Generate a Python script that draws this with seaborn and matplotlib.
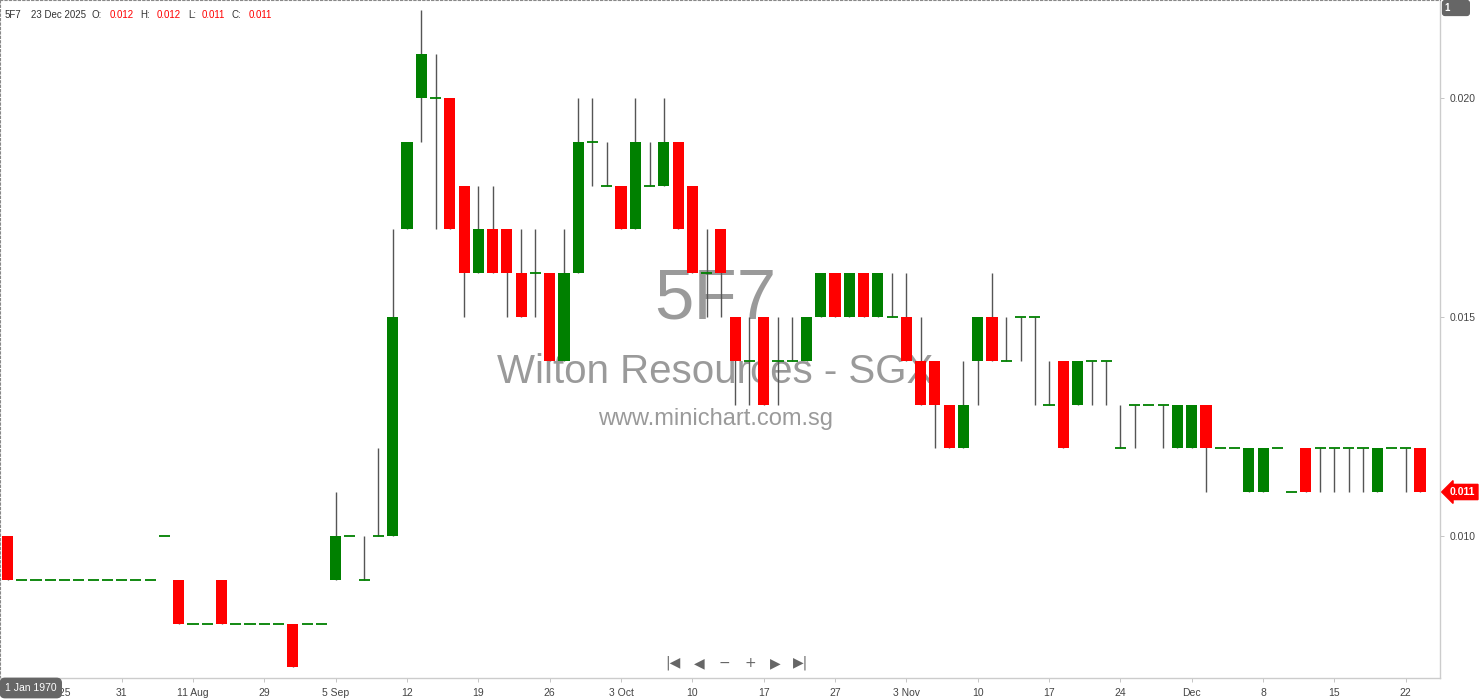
import numpy as np
import pandas as pd
import matplotlib
matplotlib.use("Agg")
import matplotlib.pyplot as plt
import seaborn as sns

# precios en milesimas de dolar (0.001 SGD)
opens = [10, 9, 9, 9, 9, 9, 9, 9, 9, 9, 9, 10, 9, 8, 8, 9, 8, 8, 8, 8,
         8, 8, 8, 9, 10, 9, 10, 10, 17, 20, 20, 20, 18, 16, 17, 17, 16, 16, 16, 14,
         16, 19, 18, 18, 17, 18, 18, 19, 18, 16, 17, 15, 14, 15, 14, 14, 14, 15, 16, 15,
         16, 15, 15, 15, 14, 14, 13, 12, 14, 15, 14, 15, 15, 13, 14, 13, 14, 14, 12, 13,
         13, 13, 12, 12, 13, 12, 12, 11, 11, 12, 11, 12, 12, 12, 12, 12, 11, 12, 12, 12]
highs = [10, 9, 9, 9, 9, 9, 9, 9, 9, 9, 9, 10, 9, 8, 8, 9, 8, 8, 8, 8,
         8, 8, 8, 11, 10, 10, 12, 17, 19, 22, 21, 20, 18, 18, 18, 17, 17, 17, 16, 17,
         20, 20, 19, 18, 20, 19, 20, 19, 18, 17, 17, 15, 15, 15, 15, 15, 15, 16, 16, 16,
         16, 16, 16, 16, 15, 14, 13, 14, 15, 16, 15, 15, 15, 14, 14, 14, 14, 14, 13, 13,
         13, 13, 13, 13, 13, 12, 12, 12, 12, 12, 11, 12, 12, 12, 12, 12, 12, 12, 12, 12]
lows = [9, 9, 9, 9, 9, 9, 9, 9, 9, 9, 9, 10, 8, 8, 8, 8, 8, 8, 8, 8,
        7, 8, 8, 9, 10, 9, 10, 10, 17, 19, 17, 17, 15, 16, 16, 15, 15, 15, 14, 14,
        16, 18, 18, 17, 17, 18, 18, 17, 16, 15, 15, 13, 13, 13, 13, 14, 14, 15, 15, 15,
        15, 15, 15, 14, 13, 12, 12, 12, 13, 14, 14, 14, 13, 13, 12, 13, 13, 13, 12, 12,
        13, 12, 12, 12, 11, 12, 12, 11, 11, 12, 11, 11, 11, 11, 11, 11, 11, 12, 11, 11]
closes = [9, 9, 9, 9, 9, 9, 9, 9, 9, 9, 9, 10, 8, 8, 8, 8, 8, 8, 8, 8,
          7, 8, 8, 10, 10, 9, 10, 15, 19, 21, 20, 17, 16, 17, 16, 16, 15, 16, 14, 16,
          19, 19, 18, 17, 19, 18, 19, 17, 16, 16, 16, 14, 14, 13, 14, 14, 15, 16, 15, 16,
          15, 16, 15, 14, 13, 13, 12, 13, 15, 14, 14, 15, 15, 13, 12, 14, 14, 14, 12, 13,
          13, 13, 13, 13, 12, 12, 12, 12, 12, 12, 11, 11, 12, 12, 12, 12, 12, 12, 12, 11]

tick_pos = [3, 8, 13, 18, 23, 28, 33, 38, 43, 48, 53, 58, 63, 68, 73, 78, 83, 88, 93, 98]
tick_labels = ["Jul 2025", "31", "11 Aug", "29", "5 Sep", "12", "19", "26", "3 Oct", "10",
               "17", "27", "3 Nov", "10", "17", "24", "Dec", "8", "15", "22"]
price_ticks = [0.010, 0.015, 0.020]

df = pd.DataFrame({"open": opens, "high": highs, "low": lows, "close": closes}) / 1000
df["i"] = np.arange(len(df))

sns.set_theme(style="white")
plt.rcParams["font.family"] = ["Liberation Sans", "DejaVu Sans"]

fig = plt.figure(figsize=(14.8, 6.99), dpi=100)
ax = fig.add_axes([0, 21 / 699, 1440 / 1480, 678 / 699])

# marca de agua
ax.text(0.497, 0.557, "5F7", transform=ax.transAxes, ha="center", va="center",
        fontsize=51, color="#9a9a9a", zorder=0)
ax.text(0.497, 0.451, "Wilton Resources - SGX", transform=ax.transAxes, ha="center",
        va="center", fontsize=29, color="#9a9a9a", zorder=0)
ax.text(0.497, 0.382, "www.minichart.com.sg", transform=ax.transAxes, ha="center",
        va="center", fontsize=17, color="#9a9a9a", zorder=0)

# mechas
ax.vlines(df["i"], df["low"], df["high"], color="#555555", linewidth=1, zorder=2)

# cuerpos
up = df[df["close"] > df["open"]]
down = df[df["close"] < df["open"]]
flat = df[df["close"] == df["open"]]
w = 0.78
ax.bar(up["i"], up["close"] - up["open"], bottom=up["open"], width=w,
       color="#008000", linewidth=0, zorder=3)
ax.bar(down["i"], down["open"] - down["close"], bottom=down["close"], width=w,
       color="#ff0000", linewidth=0, zorder=3)
ax.hlines(flat["open"], flat["i"] - w / 2, flat["i"] + w / 2, color="#008000",
          linewidth=1.3, zorder=3)

ax.set_xlim(-0.526, 100.4)
ax.set_ylim(0.006758, 0.022237)

ax.set_xticks(tick_pos)
ax.set_xticklabels(tick_labels, fontsize=7.5, color="#444444")
ax.yaxis.tick_right()
ax.set_yticks(price_ticks)
ax.set_yticklabels([f"{v:.3f}" for v in price_ticks], fontsize=7.5, color="#444444")
ax.tick_params(axis="both", length=3, width=0.6, color="#bbbbbb", pad=4)
ax.tick_params(axis="x", bottom=True)
ax.tick_params(axis="y", right=True)

for side in ["top", "left"]:
    ax.spines[side].set_linestyle((0, (2, 2)))
    ax.spines[side].set_color("#888888")
    ax.spines[side].set_linewidth(0.8)
for side in ["right", "bottom"]:
    ax.spines[side].set_color("#cccccc")
    ax.spines[side].set_linewidth(1)

# cabecera OHLC
header = [("5F7", 5, "#333333"), ("23 Dec 2025", 31, "#333333"), ("O:", 92, "#333333"),
          ("0.012", 110, "red"), ("H:", 140, "#333333"), ("0.012", 157, "red"),
          ("L:", 188, "#333333"), ("0.011", 202, "red"), ("C:", 232, "#333333"),
          ("0.011", 249, "red")]
for txt, xp, col in header:
    fig.text(xp / 1480, 1 - 15 / 699, txt, fontsize=7, color=col, va="center", ha="left")

# botones de navegacion
nav = [("|◀", 673), ("◀", 699), ("−", 724), ("+", 750), ("▶", 775), ("▶|", 801)]
for txt, xp in nav:
    fig.text(xp / 1480, 1 - 663 / 699, txt, fontsize=10, color="#666666",
             ha="center", va="center", family="DejaVu Sans")

# etiquetas de la esquina
fig.text(5 / 1480, 1 - 688 / 699, "1 Jan 1970", fontsize=7.5, color="white",
         va="center", ha="left",
         bbox=dict(boxstyle="round,pad=0.45", fc="#666666", ec="#666666"))
fig.text(1445 / 1480, 1 - 8 / 699, "1      ", fontsize=7, color="white", va="center",
         ha="left", fontweight="bold",
         bbox=dict(boxstyle="round,pad=0.25", fc="#666666", ec="#666666"))
fig.text(1450 / 1480, 1 - 492 / 699, "0.011", fontsize=7.5, color="white",
         fontweight="bold", va="center", ha="left",
         bbox=dict(boxstyle="larrow,pad=0.25", fc="#ff0000", ec="#ff0000"))

fig.savefig("out.png", dpi=100)
